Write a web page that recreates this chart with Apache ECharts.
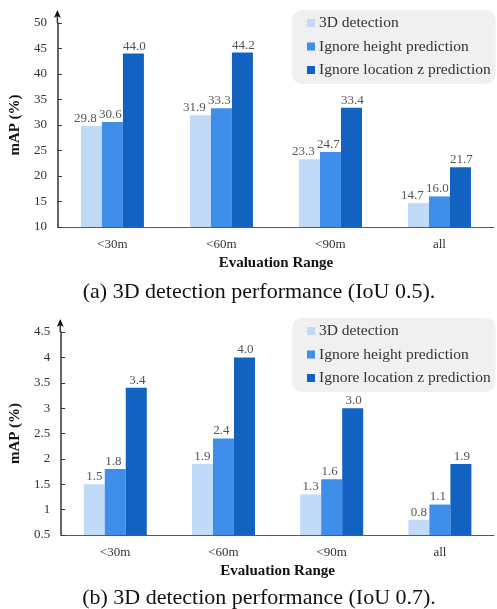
<!DOCTYPE html>
<html>
<head>
<meta charset="utf-8">
<script src="https://cdn.jsdelivr.net/npm/echarts@6/dist/echarts.min.js"></script>
<style>
html,body{margin:0;padding:0;background:#fff;}
#c{width:497px;height:609px;}
</style>
</head>
<body>
<div id="c"></div>
<script>
const categories = ['<30m', '<60m', '<90m', 'all'];
const seriesNames = ['3D detection', 'Ignore height prediction', 'Ignore location z prediction'];
const colors = ['#c1daf8', '#3f8fea', '#1262c1'];

const iou05_detection = [29.8, 31.9, 23.3, 14.7];
const iou05_ignoreHeight = [30.6, 33.3, 24.7, 16.0];
const iou05_ignoreZ = [44.0, 44.2, 33.4, 21.7];

const iou07_detection = [1.5, 1.9, 1.3, 0.8];
const iou07_ignoreHeight = [1.8, 2.4, 1.6, 1.1];
const iou07_ignoreZ = [3.4, 4.0, 3.0, 1.9];

const captionA = '(a) 3D detection performance (IoU 0.5).';
const captionB = '(b) 3D detection performance (IoU 0.7).';
const xName = 'Evaluation Range';
const yName = 'mAP (%)';

const FONT = 'Liberation Serif';
const chart = echarts.init(document.getElementById('c'), null, {renderer: 'canvas'});

function xAxis(gi) {
  return {
    type: 'category', gridIndex: gi, data: categories,
    name: xName, nameLocation: 'middle', nameGap: 29,
    nameTextStyle: {fontFamily: FONT, fontWeight: 'bold', fontSize: 15, color: '#111'},
    axisLine: {lineStyle: {color: '#595959', width: 1.2}},
    axisTick: {show: false},
    axisLabel: {fontFamily: FONT, fontSize: 13, color: '#333', margin: 11}
  };
}
function yAxis(gi, min, max, interval) {
  return {
    type: 'value', gridIndex: gi, min: min, max: max, interval: interval,
    name: yName, nameLocation: 'middle', nameGap: 30, nameRotate: 90,
    nameTextStyle: {fontFamily: FONT, fontWeight: 'bold', fontSize: 15, color: '#111'},
    axisLine: {show: true, lineStyle: {color: '#333', width: 1.5}},
    axisTick: {show: true, inside: true, length: 4, lineStyle: {color: '#333'}},
    splitLine: {show: false},
    axisLabel: {fontFamily: FONT, fontSize: 13, color: '#333', margin: 11}
  };
}
function barSeries(name, data, gi, ci, dx) {
  return {
    type: 'bar', name: name, data: data,
    xAxisIndex: gi, yAxisIndex: gi,
    barWidth: 21, barGap: '0%',
    itemStyle: {color: colors[ci]},
    label: {show: true, position: 'top', distance: 1, offset: [dx, 0], fontFamily: FONT, fontSize: 13, color: '#555',
      formatter: p => p.value.toFixed(1)}
  };
}
function legend(top) {
  return {
    orient: 'vertical', left: 292, top: top,
    data: seriesNames,
    itemWidth: 8, itemHeight: 8, itemGap: 7.5, icon: 'rect',
    padding: [5, 5, 6, 15],
    backgroundColor: '#f0f0f0', borderRadius: 10,
    textStyle: {fontFamily: FONT, fontSize: 15.5, color: '#333', padding: [0,0,0,-1]},
    selectedMode: false
  };
}

const option = {
  animation: false,
  color: colors,
  grid: [
    {left: 54, right: 3, top: 23, bottom: 609 - 227},
    {left: 54, right: 3, top: 332, bottom: 609 - 535}
  ],
  xAxis: [xAxis(0), xAxis(1)],
  yAxis: [yAxis(0, 10, 50, 5), yAxis(1, 0.5, 4.5, 0.5)],
  legend: [legend(10), legend(318)],
  series: [
    barSeries(seriesNames[0], iou05_detection, 0, 0, -6),
    barSeries(seriesNames[1], iou05_ignoreHeight, 0, 1, -2),
    barSeries(seriesNames[2], iou05_ignoreZ, 0, 2, 1),
    barSeries(seriesNames[0], iou07_detection, 1, 0, 0),
    barSeries(seriesNames[1], iou07_ignoreHeight, 1, 1, -2),
    barSeries(seriesNames[2], iou07_ignoreZ, 1, 2, 1)
  ]
};
chart.setOption(option);

// axis arrows + captions
const gfx = [];
[[0, 50], [1, 4.5]].forEach(([gi, top]) => {
  const yTop = chart.convertToPixel({yAxisIndex: gi}, top);
  const x = chart.convertToPixel({xAxisIndex: gi}, categories[0]) - 55;
  gfx.push({type: 'line', shape: {x1: x, y1: yTop, x2: x, y2: yTop - 10}, style: {stroke: '#333', lineWidth: 1.5}});
  gfx.push({type: 'polygon', shape: {points: [[x, yTop - 13], [x - 3.5, yTop - 5], [x, yTop - 7], [x + 3.5, yTop - 5]]}, style: {fill: '#111'}});
});
const yA = chart.convertToPixel({yAxisIndex: 0}, 10);
const yB = chart.convertToPixel({yAxisIndex: 1}, 0.5);
gfx.push({type: 'text', x: 259, y: yA + 65, style: {text: captionA, font: '22px "Liberation Serif"', fill: '#111', align: 'center', verticalAlign: 'middle'}});
gfx.push({type: 'text', x: 259, y: yB + 63, style: {text: captionB, font: '22px "Liberation Serif"', fill: '#111', align: 'center', verticalAlign: 'middle'}});
chart.setOption({graphic: gfx});
</script>
</body>
</html>
